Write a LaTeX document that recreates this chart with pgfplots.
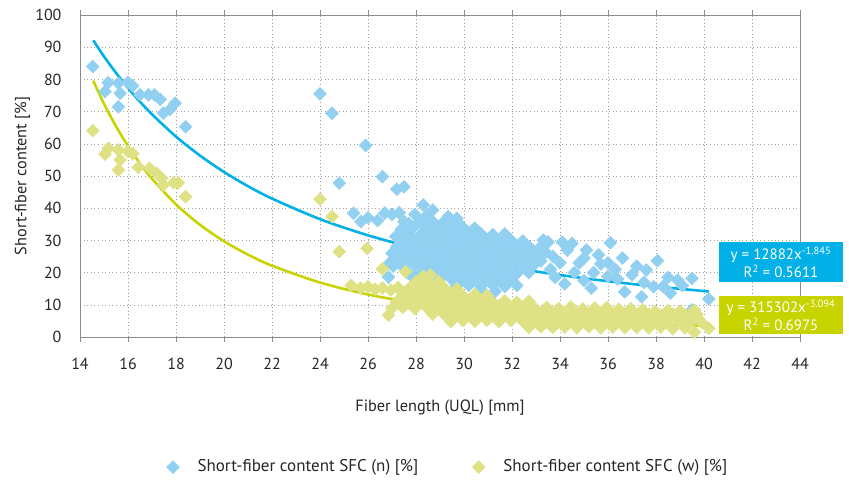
\documentclass[border=0pt]{standalone}
\usepackage{pgfplots}
\pgfplotsset{compat=1.18}
\usepackage{fontspec}
\setmainfont{PT Sans}
\definecolor{bluept}{HTML}{92D0F2}
\definecolor{yelpt}{HTML}{DFE284}
\definecolor{blueln}{HTML}{00B0E6}
\definecolor{yelln}{HTML}{C8D400}
\definecolor{txt}{HTML}{262626}
\definecolor{axgray}{HTML}{8C8C8C}
\begin{document}
\fontsize{16pt}{19pt}\selectfont
\begin{tikzpicture}
\path[use as bounding box] (-80pt,-146pt) rectangle (769pt,337pt);
\begin{axis}[
  at={(0pt,0pt)}, anchor=south west,
  scale only axis, width=720pt, height=322pt,
  xmin=14, xmax=44, ymin=0, ymax=100,
  xtick={14,16,...,44}, ytick={0,10,...,100},
  grid=major,
  grid style={gray!75, line width=0.6pt, dash pattern=on 1pt off 2.6pt},
  axis line style={axgray, line width=0.8pt},
  tick align=outside,
  xtick style={axgray, line width=0.6pt},
  major tick length=5pt,
  ytick style={draw=none},
  /pgf/number format/assume math mode=true,
  tick label style={font=\fontsize{16pt}{19pt}\selectfont, text=txt},
  xticklabel style={yshift=-11pt},
  yticklabel style={xshift=-8pt},
  xlabel={Fiber length (UQL) [mm]},
  ylabel={Short-fiber content [\%]},
  label style={font=\fontsize{16.3pt}{19pt}\selectfont, text=txt},
  xlabel style={at={(axis description cs:0.5,-0.2205)}, anchor=center},
  ylabel style={at={(axis description cs:-0.080,0.5)}, anchor=center},
  legend style={at={(axis description cs:0.511,-0.404)}, anchor=center,
    draw=none, fill=none, font=\fontsize{17pt}{20pt}\selectfont, text=txt,
    legend columns=2},
  legend cell align=left,
]
% ---- SFC (n) ----
\addplot[bluept, only marks, mark=square*, mark size=4.6pt, mark options={rotate=45}] coordinates {
(14.53,84) (15.18,79) (15.04,76.2) (15.6,78.8) (15.67,75.7) (15.6,71.5) (16.0,79.1) (16.2,78) (16.5,75.2) (16.85,75.2) (17.1,75.2) (17.34,73.8) (17.47,69.5) (17.75,70.7) (17.96,72.6) (18.4,65.3)
(24.0,75.5) (24.5,69.5) (24.8,47.8) (25.9,59.5) (26.6,49.8) (27.2,45.9) (27.5,46.6)
(25.4,38.4) (25.7,35.8) (26.0,37) (26.4,36.2) (26.7,38.5) (27.0,38) (27.3,38.6) (27.5,35.8) (27.7,35.2)
(26.85,18.6) (27.9,18.3) (26.9,23) (28.3,41) (28.7,39.4) (29.35,37.4) (29.7,36.8) (33.3,30.1) (34.1,29.4)
(27.95,38.1) (28.45,37.8) (27.4,33.5) (27.15,31.2)
(28.2,36) (28.7,35.8) (29.2,36.1) (29.7,35.9)
(27.9,34.1) (28.45,33.8) (28.95,34.2) (29.45,33.9) (29.95,34.1) (30.45,33.8)
(27.7,32.2) (28.2,31.9) (28.7,32.1) (29.2,31.8) (29.7,32.2) (30.2,31.9) (30.7,32.1) (31.2,31.8) (31.7,32)
(27.45,30) (27.95,30.2) (28.45,29.8) (28.95,30.1) (29.45,29.9) (29.95,30.2) (30.45,29.8) (30.95,30.1) (31.45,29.9) (31.95,30.1) (32.45,29.8)
(27.2,28) (27.7,28.2) (28.2,27.9) (28.7,28.1) (29.2,27.8) (29.7,28.2) (30.2,27.9) (30.7,28.1) (31.2,27.8) (31.7,28.2) (32.2,27.9) (32.7,28.1) (33.15,27.7)
(27.0,26) (27.45,26.2) (27.95,25.8) (28.45,26.1) (28.95,25.9) (29.45,26.2) (29.95,25.8) (30.45,26.1) (30.95,25.9) (31.45,26.2) (31.95,25.8) (32.45,26.1) (32.95,25.9) (33.4,26.3)
(27.2,24) (27.7,24.2) (28.2,23.8) (28.7,24.1) (29.2,23.9) (29.7,24.2) (30.2,23.8) (30.7,24.1) (31.2,23.9) (31.7,24.2) (32.2,23.8) (32.7,24.1) (33.2,23.6)
(27.05,22) (27.45,21.8) (27.95,22.2) (28.45,21.9) (28.95,22.1) (29.45,21.8) (29.95,22.2) (30.45,21.9) (30.95,22.1) (31.45,21.8) (31.95,22.2) (32.45,21.9) (32.9,22.3)
(27.65,20) (28.2,19.8) (28.7,20.2) (29.2,19.9) (29.7,20.1) (30.2,19.8) (30.7,20.2) (31.2,19.9) (31.7,20.1) (32.2,19.7) (32.7,20)
(28.45,18) (28.95,17.8) (29.45,18.1) (29.95,17.9) (30.45,18.2) (30.95,17.8) (31.45,18.1) (31.95,17.9)
(29.7,15.8) (30.2,16.1) (30.7,15.8) (31.2,16.1) (31.7,15.7) (32.2,16)
(30.8,14) (31.3,14.2)
(33.5,29.5) (33.7,25) (33.6,21) (33.8,18.5) (34.0,23) (34.3,27) (34.5,29.1) (34.8,23) (34.6,20) (35.1,27) (35.0,24.5) (35.3,15.2) (35.4,20) (35.6,25.5) (35.7,22.7) (36.0,18.8) (36.1,29.3) (36.0,23) (36.4,18) (36.6,24.5) (36.3,21) (36.7,14) (37.0,19.3) (37.2,22) (37.4,12.5) (37.5,17) (37.6,20.8) (37.9,15.6) (38.06,23.7) (38.3,15.7) (38.6,13.6) (38.9,17.7) (39.1,16) (39.5,18.2) (39.5,8.4) (39.66,6.8) (40.2,11.8) (38.5,18.5) (34.2,16.5) (35.0,17.5)
};
\addlegendentry{\hspace{16pt}Short-fiber content SFC (n) [\%]\hspace{52pt}\null}
% ---- SFC (w) ----
\addplot[yelpt, only marks, mark=square*, mark size=4.6pt, mark options={rotate=45}] coordinates {
(14.53,64.1) (15.18,58.6) (15.04,56.8) (15.6,58.1) (15.67,55) (15.6,51.9) (16.0,57.6) (16.2,56.9) (16.43,52.7) (16.9,52.4) (17.2,50.8) (17.4,49.3) (17.47,47.2) (17.9,47.9) (18.1,47.9) (18.4,43.6)
(24.0,42.8) (24.5,37.4) (24.8,26.5) (25.96,27.5) (26.6,21.2) (27.56,20.3)
(25.3,16) (25.7,15.2) (26.0,15.6) (26.3,14.8) (26.6,15.2) (26.95,14.6) (27.25,15.3) (26.85,6.8)
(28.3,18.8) (28.6,19.2)
(28.0,17.1) (28.45,16.8) (28.95,17.2)
(27.7,15) (28.2,15.2) (28.7,14.8) (29.2,15.1) (29.7,14.9)
(27.45,13) (27.95,12.8) (28.45,13.2) (28.95,12.9) (29.45,13.1) (29.95,12.8) (30.45,13.2) (30.95,12.9)
(27.2,11) (27.7,11.2) (28.2,10.8) (28.7,11.1) (29.2,10.9) (29.7,11.2) (30.2,10.8) (30.7,11.1) (31.2,10.9) (31.7,11.2) (32.2,10.8) (32.7,11.1)
(27.0,9) (27.45,9.2) (27.95,8.8) (28.45,9.1) (28.95,8.9) (29.45,9.2) (29.95,8.8) (30.45,9.1) (30.95,8.9) (31.45,9.2) (31.95,8.8) (32.45,9.1) (32.95,8.9) (33.45,9.2) (33.95,8.8) (34.45,9.3) (34.95,8.7) (35.45,9) (35.95,9.1) (36.45,8.6) (36.95,8.8) (37.45,8.4) (37.95,7.9) (38.5,8.2) (39.0,8) (39.6,8.3)
(28.7,7.1) (29.2,6.9) (29.7,7.2) (30.2,6.8) (30.7,7.1) (31.2,6.9) (31.7,7.2) (32.2,6.8) (32.7,7.1) (33.2,6.9) (33.7,7.2) (34.2,6.8) (34.7,7.1) (35.2,6.9) (35.7,7.2) (36.2,6.8) (36.7,7.1) (37.2,6.9) (37.7,7) (38.2,6.8) (38.7,7.1) (39.2,6.9) (39.7,7)
(29.45,4.8) (29.95,5.1) (30.45,4.9) (30.95,5.2) (31.45,4.8) (31.95,5.1) (32.45,4.9) (32.95,5.2) (33.45,4.8) (33.95,5.1) (34.45,4.9) (34.95,5.2) (35.45,4.8) (35.95,5.1) (36.45,4.9) (36.95,5.2) (37.45,4.8) (37.95,5.1) (38.45,4.9) (38.95,5.2) (39.45,4.8) (39.9,4.5)
(32.7,3.0) (33.2,3.2) (33.7,3.0) (34.2,3.1) (34.7,2.9) (35.2,3.2) (35.7,2.8) (36.2,3.1) (36.7,2.9) (37.2,3.0) (37.7,2.8) (38.2,3.1) (38.7,2.6) (39.2,2.9) (39.6,1.5) (40.2,2.7)
};
\addlegendentry{\hspace{16pt}Short-fiber content SFC (w) [\%]}
% ---- power trend lines (values of the fitted curves) ----
\addplot[blueln, line width=2.6pt, smooth, forget plot] coordinates {
(14.55,92.15) (15,87.12) (15.5,82.03) (16,77.34) (16.5,73.07) (17,69.16) (18,62.23) (19,56.34) (20,51.25) (21,46.84) (22,42.99) (24,36.60) (26,31.58) (28,27.54) (30,24.25) (32,21.53) (34,19.25) (36,17.32) (38,15.68) (40.2,14.13)
};
\addplot[yelln, line width=2.6pt, smooth, forget plot] coordinates {
(14.55,79.6) (15,72.43) (15.5,65.44) (16,59.33) (16.5,53.93) (17,49.17) (18,41.19) (19,34.85) (20,29.74) (21,25.58) (22,22.15) (24,16.92) (26,13.21) (28,10.50) (30,8.48) (32,6.95) (34,5.76) (36,4.83) (38,4.08) (40.2,3.43)
};
\end{axis}
\node[fill=blueln, text=white, align=center, minimum width=124pt, minimum height=40pt, inner sep=1pt,
  font=\fontsize{15pt}{18pt}\selectfont] at (701pt,75pt) {y = 12882x\textsuperscript{-1.845}\\R\textsuperscript{2} = 0.5611};
\node[fill=yelln, text=white, align=center, minimum width=124pt, minimum height=38pt, inner sep=1pt,
  font=\fontsize{15pt}{18pt}\selectfont] at (701pt,22pt) {y = 315302x\textsuperscript{-3.094}\\R\textsuperscript{2} = 0.6975};
\end{tikzpicture}
\end{document}
